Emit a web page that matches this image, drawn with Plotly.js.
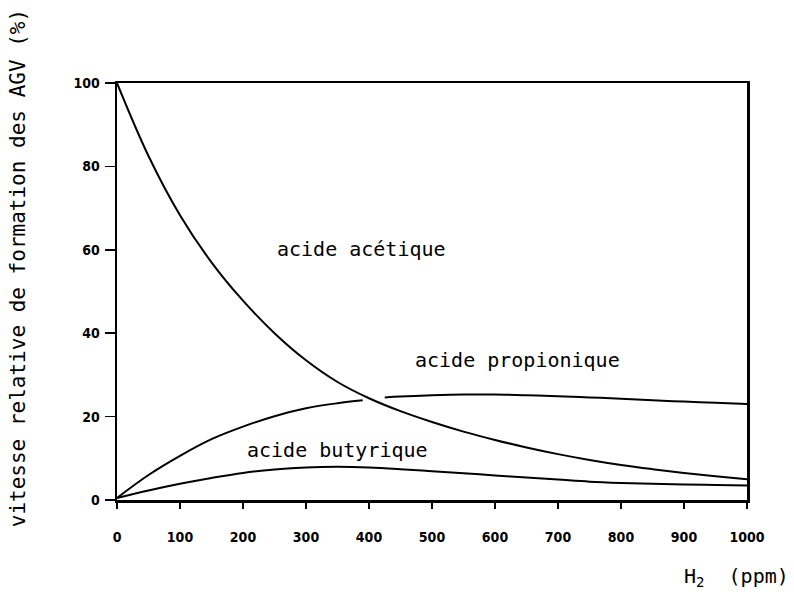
<!DOCTYPE html>
<html>
<head>
<meta charset="utf-8">
<script src="https://cdn.plot.ly/plotly-3.0.1.min.js"></script>
<style>html,body{margin:0;padding:0;background:#fff;}#chart{width:794px;height:594px;}</style>
</head>
<body>
<div id="chart"></div>
<script>
// H2 concentration (ppm) and relative rates (%)
const aceticX = [0, 50, 100, 150, 200, 250, 300, 350, 400, 450, 500, 550, 600, 650, 700, 750, 800, 850, 900, 950, 1000];
const aceticY = [100, 82.5, 68.3, 57, 47.8, 40, 33.5, 28.3, 24.4, 21.3, 18.7, 16.4, 14.4, 12.6, 11, 9.6, 8.4, 7.4, 6.5, 5.7, 5];

const propionicX = [0, 50, 100, 150, 200, 250, 300, 350, 390, 405, 425, 450, 500, 550, 600, 650, 700, 750, 800, 850, 900, 950, 1000];
const propionicY = [0.5, 6, 10.6, 14.6, 17.6, 20.1, 22, 23.2, 23.9, null, 24.6, 24.8, 25.1, 25.3, 25.3, 25.1, 24.9, 24.6, 24.3, 23.9, 23.6, 23.3, 23.0];

const butyricX = [0, 50, 100, 150, 200, 250, 300, 350, 400, 450, 500, 550, 600, 650, 700, 750, 800, 850, 900, 950, 1000];
const butyricY = [0.5, 2.3, 3.9, 5.3, 6.5, 7.3, 7.8, 7.95, 7.8, 7.4, 6.9, 6.4, 5.9, 5.4, 4.9, 4.4, 4.1, 3.9, 3.7, 3.6, 3.5];

const xTicks = [0, 100, 200, 300, 400, 500, 600, 700, 800, 900, 1000];
const yTicks = [0, 20, 40, 60, 80, 100];

const curveLabels = ["acide acétique", "acide propionique", "acide butyrique"];
const labelX = [251, 470, 203];
const labelY = [60.2, 33.6, 12];

const yTitle = "vitesse relative de formation des AGV (%)";
const xTitle = "H<sub>2</sub>&nbsp; (ppm)";

const lineStyle = {color: "#000", width: 2, shape: "spline", smoothing: 1};
const traces = [
  {x: aceticX, y: aceticY, mode: "lines", line: lineStyle, connectgaps: false, hoverinfo: "skip"},
  {x: propionicX, y: propionicY, mode: "lines", line: lineStyle, connectgaps: false, hoverinfo: "skip"},
  {x: butyricX, y: butyricY, mode: "lines", line: lineStyle, connectgaps: false, hoverinfo: "skip"}
];

const mono = "DejaVu Sans Mono, monospace";
const annotations = curveLabels.map((t, i) => ({
  x: labelX[i], y: labelY[i], xref: "x", yref: "y", text: t, showarrow: false,
  xanchor: "left", yanchor: "middle",
  font: {family: mono, size: 20, color: "#000"}
}));
annotations.push({
  x: -0.157, y: 0.556, xref: "paper", yref: "paper", text: yTitle, textangle: -90,
  xanchor: "center", yanchor: "middle",
  showarrow: false, font: {family: mono, size: 21, color: "#000"}
});
annotations.push({
  x: 0.983, y: -0.185, xref: "paper", yref: "paper", text: xTitle,
  xanchor: "center", yanchor: "middle",
  showarrow: false, font: {family: mono, size: 20, color: "#000"}
});

const tickFont = {family: "DejaVu Sans Condensed, sans-serif", size: 14, color: "#000", weight: "bold"};
const layout = {
  width: 794, height: 594,
  margin: {l: 117, r: 47, t: 83, b: 94},
  paper_bgcolor: "#fff", plot_bgcolor: "#fff",
  showlegend: false,
  xaxis: {
    range: [0, 1000], tickvals: xTicks, ticktext: xTicks.map(String),
    showgrid: false, zeroline: false, showline: true, mirror: true,
    linecolor: "#000", linewidth: 2.5, ticks: "outside", ticklen: 6, tickwidth: 1.5,
    tickcolor: "#000", tickfont: tickFont, ticklabelstandoff: 17
  },
  yaxis: {
    range: [0, 100], tickvals: yTicks, ticktext: yTicks.map(String),
    showgrid: false, zeroline: false, showline: true, mirror: true,
    linecolor: "#000", linewidth: 2.5, ticks: "outside", ticklen: 10, tickwidth: 1.5,
    tickcolor: "#000", tickfont: tickFont, ticklabelstandoff: 2
  },
  annotations: annotations
};
Plotly.newPlot("chart", traces, layout, {displayModeBar: false, staticPlot: true});
</script>
</body>
</html>
